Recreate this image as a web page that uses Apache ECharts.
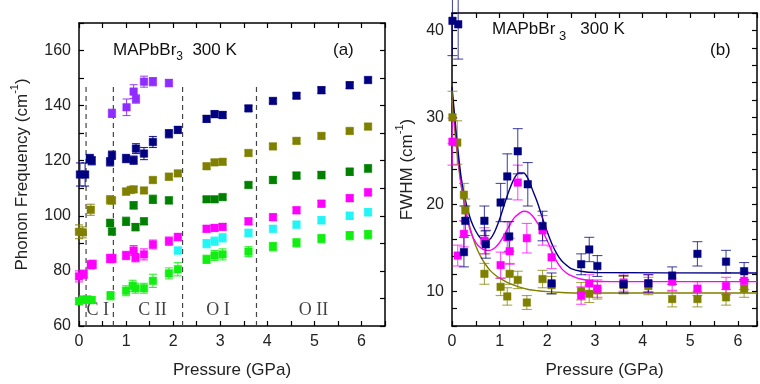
<!DOCTYPE html>
<html>
<head>
<meta charset="utf-8">
<script src="https://cdn.jsdelivr.net/npm/echarts@6/dist/echarts.min.js"></script>
<style>
  html, body { margin: 0; padding: 0; background: #fff; }
  #chart { width: 760px; height: 384px; }
</style>
</head>
<body>
<div id="chart"></div>
<script>
// ---------- panel (a): phonon frequency vs pressure ----------
const limeP = [0.0, 0.09, 0.18, 0.27, 0.67, 1.0, 1.14, 1.2, 1.38, 1.57, 1.91, 2.1, 2.71, 2.88, 3.05, 3.6, 4.12, 4.62, 5.15, 5.75, 6.14];
const limeF = [69.0, 69.6, 69.6, 69.4, 71.0, 72.8, 74.6, 73.7, 73.7, 76.4, 79.1, 80.6, 84.2, 85.6, 86.0, 87.0, 88.8, 90.2, 91.7, 92.8, 93.2];
const limeE = [1.2, 1.2, 1.2, 1.2, 1.5, 1.8, 2.0, 1.8, 1.8, 2.4, 2.0, 2.4, 1.5, 1.8, 2.0, 1.8, 1.5, 1.5, 1.5, 1.5, 1.5];

const magP = [0.0, 0.1, 0.25, 0.29, 0.66, 0.71, 1.0, 1.16, 1.2, 1.38, 1.57, 1.91, 2.1, 2.71, 2.88, 3.05, 3.6, 4.12, 4.62, 5.15, 5.75, 6.14];
const magF = [78.0, 78.8, 82.2, 82.4, 84.5, 84.5, 85.6, 87.4, 84.8, 86.0, 89.6, 90.8, 92.3, 95.3, 95.6, 96.0, 98.0, 99.5, 102.0, 104.4, 106.4, 108.5];
const magE = [2.0, 1.5, 1.5, 1.5, 1.5, 1.5, 1.5, 1.8, 1.5, 2.0, 1.6, 1.5, 1.3, 1.2, 1.2, 1.2, 1.2, 1.2, 1.2, 1.2, 1.2, 1.2];

const cyanP = [2.1, 2.71, 2.88, 3.05, 3.6, 4.12, 4.62, 5.15, 5.75, 6.14];
const cyanF = [87.4, 89.9, 90.8, 92.0, 93.8, 95.3, 96.8, 98.4, 100.0, 101.3];
const cyanE = [1.2, 1.5, 1.5, 1.5, 1.3, 1.2, 1.2, 1.3, 1.3, 1.3];

const dkgreenP = [0.66, 0.70, 1.0, 1.16, 1.2, 1.38, 1.57, 1.91, 2.71, 2.88, 3.05, 3.6, 4.12, 4.62, 5.15, 5.75, 6.14];
const dkgreenF = [97.4, 94.3, 98.0, 103.8, 95.9, 98.0, 106.0, 105.6, 106.0, 106.0, 106.8, 111.2, 113.0, 114.6, 114.8, 116.0, 117.2];
const dkgreenE = [1.3, 1.2, 1.5, 1.3, 1.3, 1.2, 1.5, 1.2, 1.0, 1.0, 1.0, 1.0, 1.2, 1.2, 1.3, 1.3, 1.3];

const oliveP = [0.0, 0.08, 0.25, 0.66, 0.70, 1.0, 1.1, 1.16, 1.38, 1.57, 1.91, 2.1, 2.71, 2.88, 3.05, 3.6, 4.12, 4.62, 5.15, 5.75, 6.14];
const oliveF = [94.2, 94.0, 102.2, 105.8, 105.6, 108.8, 109.4, 109.6, 109.2, 113.0, 114.2, 115.4, 118.0, 119.4, 119.6, 122.8, 125.2, 127.2, 129.0, 130.8, 132.4];
const oliveE = [2.5, 2.0, 2.0, 1.5, 1.2, 1.2, 1.0, 1.0, 1.0, 1.0, 1.2, 1.0, 1.0, 1.0, 1.0, 1.0, 1.0, 1.0, 1.0, 1.0, 1.0];

const navyP = [0.02, 0.13, 0.23, 0.27, 0.66, 0.70, 1.0, 1.16, 1.21, 1.38, 1.57, 1.91, 2.1, 2.71, 2.88, 3.05, 3.6, 4.12, 4.62, 5.15, 5.75, 6.14];
const navyF = [115.0, 115.0, 120.8, 120.0, 119.6, 122.0, 120.8, 120.2, 124.4, 122.6, 126.8, 129.8, 131.2, 135.2, 136.9, 136.6, 139.0, 141.7, 143.6, 145.6, 147.4, 149.3];
const navyE = [4.2, 4.2, 1.5, 1.5, 1.5, 1.5, 1.5, 1.5, 1.8, 2.2, 2.0, 1.5, 1.2, 1.2, 1.2, 1.2, 1.0, 1.0, 1.0, 1.2, 1.2, 1.0];

const violetP = [0.70, 1.01, 1.16, 1.21, 1.38, 1.57, 1.91];
const violetF = [137.2, 139.4, 145.1, 142.4, 148.7, 148.7, 148.2];
const violetE = [1.5, 3.0, 2.5, 1.5, 2.0, 1.5, 1.3];

const boundaries = [0.15, 0.73, 2.2, 3.77];
const boundaryTop = 148;
const phaseNames = ['C I', 'C II', 'O I', 'O II'];
const phaseP = [0.40, 1.56, 2.95, 4.98];
const phaseY = 65.8;

// ---------- panel (b): FWHM vs pressure ----------
const bNavyP = [0.01, 0.13, 0.25, 0.28, 0.68, 0.71, 1.02, 1.16, 1.20, 1.38, 1.59, 1.90, 2.09, 2.71, 2.88, 3.05, 3.60, 4.12, 4.62, 5.15, 5.75, 6.13];
const bNavyW = [41.1, 40.7, 14.5, 18.1, 18.1, 15.4, 20.2, 23.2, 16.3, 26.1, 22.3, 17.5, 10.9, 13.1, 14.8, 12.9, 10.8, 10.9, 11.8, 14.3, 13.4, 12.3];
const bNavyE = [4.0, 4.0, 1.7, 1.7, 1.7, 1.6, 2.2, 2.6, 1.7, 2.6, 2.5, 1.7, 1.2, 1.2, 1.4, 1.2, 1.0, 1.0, 1.0, 1.4, 1.3, 1.0];

const bMagP = [0.01, 0.12, 0.25, 0.68, 1.02, 1.16, 1.21, 1.38, 1.57, 1.90, 2.09, 2.71, 2.88, 3.05, 3.60, 4.12, 4.62, 5.15, 5.75, 6.13];
const bMagW = [27.2, 14.1, 16.6, 15.8, 13.0, 16.2, 14.6, 22.5, 16.1, 17.0, 13.9, 9.5, 10.9, 10.3, 11.0, 10.9, 11.1, 10.3, 10.6, 11.2];
const bMagE = [2.7, 1.2, 1.5, 1.5, 1.5, 1.8, 1.5, 2.0, 1.7, 1.7, 1.3, 1.0, 1.0, 1.0, 1.0, 1.0, 1.0, 0.8, 1.0, 1.0];

const bOliveP = [0.01, 0.11, 0.25, 0.28, 0.68, 0.70, 1.02, 1.16, 1.21, 1.38, 1.57, 1.90, 2.09, 2.71, 2.88, 3.05, 3.60, 4.12, 4.62, 5.15, 5.75, 6.13];
const bOliveW = [30.0, 27.1, 21.1, 19.3, 12.0, 15.6, 10.5, 9.4, 12.0, 11.3, 8.7, 11.4, 10.7, 10.0, 9.7, 10.1, 10.7, 10.6, 9.1, 9.1, 9.3, 10.3];
const bOliveE = [3.0, 2.5, 1.3, 1.3, 1.2, 1.3, 1.0, 1.0, 1.2, 1.0, 0.8, 1.0, 1.0, 1.0, 1.0, 1.0, 1.0, 1.0, 0.9, 0.9, 0.9, 1.0];

// fitted curves
const fitNavyP = [0, 0.05, 0.1, 0.15, 0.2, 0.3, 0.4, 0.5, 0.6, 0.7, 0.8, 0.9, 1.0, 1.1, 1.2, 1.3, 1.4, 1.5, 1.6, 1.7, 1.8, 1.9, 2.0, 2.1, 2.2, 2.3, 2.4, 2.5, 2.7, 3.0, 6.4];
const fitNavyW = [33.5, 30.5, 27.6, 25.0, 22.8, 20.0, 18.1, 16.9, 16.1, 15.8, 16.0, 16.9, 18.3, 20.0, 21.6, 22.9, 23.6, 23.6, 22.9, 21.5, 20.1, 18.4, 16.8, 15.4, 14.3, 13.5, 13.0, 12.6, 12.3, 12.15, 12.1];
const fitMagP = [0, 0.05, 0.1, 0.15, 0.2, 0.3, 0.4, 0.5, 0.6, 0.7, 0.8, 0.9, 1.0, 1.1, 1.2, 1.3, 1.4, 1.5, 1.6, 1.7, 1.8, 1.9, 2.0, 2.1, 2.2, 2.3, 2.4, 2.5, 2.7, 3.0, 3.5, 6.4];
const fitMagW = [33.0, 29.8, 26.8, 24.2, 22.0, 18.8, 16.7, 15.6, 15.0, 14.7, 14.7, 15.0, 15.6, 16.5, 17.5, 18.4, 18.9, 19.2, 19.1, 18.6, 17.8, 16.9, 15.8, 14.5, 13.4, 12.6, 12.1, 11.8, 11.4, 11.15, 11.1, 11.1];
const fitOliveP = [0, 0.05, 0.1, 0.15, 0.2, 0.3, 0.4, 0.5, 0.6, 0.7, 0.8, 0.9, 1.0, 1.2, 1.4, 1.6, 1.8, 2.0, 2.3, 2.6, 6.4];
const fitOliveW = [32.0, 29.0, 26.2, 23.8, 21.9, 19.0, 16.9, 15.2, 14.0, 13.1, 12.4, 11.9, 11.5, 10.9, 10.5, 10.2, 10.05, 9.95, 9.85, 9.8, 9.8];

const C = {
  lime: '#11ee11', magenta: '#ff00ff', cyan: '#22f5f5', dkgreen: '#008000',
  olive: '#808000', navy: '#000080', violet: '#8f2cff'
};
const FONT = 'Liberation Sans';

const chart = echarts.init(document.getElementById('chart'), null, { renderer: 'canvas' });

function pairs(P, V) { return P.map((p, i) => [p, V[i]]); }
function triples(P, V, E) { return P.map((p, i) => [p, V[i], E[i]]); }

function errorBars(P, V, E, color, axisIdx, capHalf, opacity) {
  return {
    type: 'custom',
    xAxisIndex: axisIdx, yAxisIndex: axisIdx,
    data: triples(P, V, E),
    encode: { x: 0, y: 1 },
    z: 2,
    silent: true,
    renderItem: (params, api) => {
      const x = api.value(0), y = api.value(1), e = api.value(2);
      const lo = api.coord([x, y - e]);
      const hi = api.coord([x, y + e]);
      const st = { stroke: color, lineWidth: 1.1, opacity: opacity };
      return {
        type: 'group',
        children: [
          { type: 'line', shape: { x1: lo[0], y1: lo[1], x2: hi[0], y2: hi[1] }, style: st },
          { type: 'line', shape: { x1: lo[0] - capHalf, y1: lo[1], x2: lo[0] + capHalf, y2: lo[1] }, style: st },
          { type: 'line', shape: { x1: hi[0] - capHalf, y1: hi[1], x2: hi[0] + capHalf, y2: hi[1] }, style: st }
        ]
      };
    }
  };
}

function points(P, V, color, axisIdx, size) {
  return {
    type: 'scatter', xAxisIndex: axisIdx, yAxisIndex: axisIdx,
    data: pairs(P, V), symbol: 'rect', symbolSize: size, z: 3,
    itemStyle: { color: color, borderColor: color, borderWidth: 0.5, opacity: 1 },
    silent: true
  };
}

function fitLine(P, V, color) {
  return {
    type: 'line', xAxisIndex: 2, yAxisIndex: 2, data: pairs(P, V),
    smooth: 0.3, symbol: 'none', z: 1, silent: true,
    lineStyle: { color: color, width: 1.4 }
  };
}

const aSets = [
  [limeP, limeF, limeE, C.lime], [magP, magF, magE, C.magenta], [cyanP, cyanF, cyanE, C.cyan],
  [dkgreenP, dkgreenF, dkgreenE, C.dkgreen], [oliveP, oliveF, oliveE, C.olive],
  [navyP, navyF, navyE, C.navy], [violetP, violetF, violetE, C.violet]
];
const bSets = [
  [bOliveP, bOliveW, bOliveE, C.olive], [bMagP, bMagW, bMagE, C.magenta], [bNavyP, bNavyW, bNavyE, C.navy]
];

const series = [];
boundaries.forEach(b => {
  series.push({
    type: 'line', xAxisIndex: 0, yAxisIndex: 0, data: [[b, 60], [b, boundaryTop]],
    symbol: 'none', silent: true, z: 1,
    lineStyle: { color: '#444', width: 1.2, type: [5, 4] }
  });
});
aSets.forEach(s => {
  series.push(errorBars(s[0], s[1], s[2], s[3], 0, 4, 0.85));
  series.push(points(s[0], s[1], s[3], 0, 7.5));
});
series.push({
  type: 'scatter', xAxisIndex: 0, yAxisIndex: 0, symbolSize: 0, silent: true,
  data: phaseP.map((p, i) => ({ value: [p, phaseY], name: phaseNames[i] })),
  label: {
    show: true, position: 'inside', formatter: '{b}',
    fontFamily: 'Liberation Serif', fontSize: 18, color: '#111'
  }
});
series.push(fitLine(fitOliveP, fitOliveW, C.olive));
series.push(fitLine(fitMagP, fitMagW, C.magenta));
series.push(fitLine(fitNavyP, fitNavyW, C.navy));
bSets.forEach(s => {
  series.push(errorBars(s[0], s[1], s[2], s[3], 2, 5, 0.7));
  series.push(points(s[0], s[1], s[3], 2, 7.5));
});

const axLine = { show: true, onZero: false, lineStyle: { color: '#000', width: 1.5 } };
const tick = { show: true, inside: true, length: 5, lineStyle: { color: '#000', width: 1.2 } };
const lab = { color: '#222', fontFamily: FONT, fontSize: 16 };
const nameStyle = {
  fontFamily: FONT, fontSize: 17, color: '#222',
  rich: {
    a: { fontFamily: FONT, fontSize: 17, color: '#222', lineHeight: 26 },
    s: { fontFamily: FONT, fontSize: 11, color: '#222', lineHeight: 12, verticalAlign: 'top' }
  }
};
const intLabel = v => (Math.abs(v - Math.round(v)) < 1e-6 ? String(Math.round(v)) : '');

function xAxes(grid, max) {
  return [
    {
      type: 'value', gridIndex: grid, min: 0, max: max, interval: 0.5, position: 'bottom',
      axisLine: axLine, axisTick: tick, splitLine: { show: false },
      axisLabel: Object.assign({ margin: 8, formatter: intLabel, showMaxLabel: true, showMinLabel: true }, lab),
      name: 'Pressure (GPa)', nameLocation: 'middle', nameGap: 36, nameTextStyle: nameStyle
    },
    {
      type: 'value', gridIndex: grid, min: 0, max: max, interval: 0.5, position: 'top',
      axisLine: axLine, axisTick: tick, splitLine: { show: false }, axisLabel: { show: false }
    }
  ];
}
function yAxes(grid, min, max, interval, labelStep, nameStr, nameGap) {
  return [
    {
      type: 'value', gridIndex: grid, min: min, max: max, interval: interval, position: 'left',
      axisLine: axLine, axisTick: tick, splitLine: { show: false },
      axisLabel: Object.assign({
        margin: 8,
        formatter: v => (Math.abs(v % labelStep) < 1e-6 ? String(v) : '')
      }, lab),
      name: nameStr, nameLocation: 'middle', nameRotate: 90, nameGap: nameGap, nameTextStyle: nameStyle
    },
    {
      type: 'value', gridIndex: grid, min: min, max: max, interval: interval, position: 'right',
      axisLine: axLine, axisTick: tick, splitLine: { show: false }, axisLabel: { show: false }
    }
  ];
}

const option = {
  backgroundColor: '#fff',
  animation: false,
  grid: [
    { left: 79, top: 23, width: 306, height: 306 },
    { left: 452, top: 13, width: 310, height: 314 }
  ],
  xAxis: xAxes(0, 6.5).concat(xAxes(1, 6.4)),
  yAxis: yAxes(0, 60, 170, 10, 20, '{a|Phonon Frequency (cm}{s|-1}{a|)}', 44)
    .concat(yAxes(1, 6, 42, 2, 10, '{a|FWHM (cm}{s|-1}{a|)}', 32)),
  series: series,
  graphic: [
    {
      type: 'text', left: 113, top: 42, silent: true,
      style: {
        text: '{a|MAPbBr}{s|3}{a|  300 K}',
        rich: {
          a: { fontFamily: FONT, fontSize: 17, fill: '#111', lineHeight: 24 },
          s: { fontFamily: FONT, fontSize: 12, fill: '#111', lineHeight: 13, verticalAlign: 'bottom' }
        }
      }
    },
    { type: 'text', left: 333, top: 42, silent: true, style: { text: '(a)', fontFamily: FONT, fontSize: 17, fill: '#111' } },
    {
      type: 'text', left: 492, top: 21, silent: true,
      style: {
        text: '{a|MAPbBr}{s| 3}{a|   300 K}',
        rich: {
          a: { fontFamily: FONT, fontSize: 17, fill: '#111', lineHeight: 26 },
          s: { fontFamily: FONT, fontSize: 13, fill: '#111', lineHeight: 12, verticalAlign: 'bottom' }
        }
      }
    },
    { type: 'text', left: 710, top: 42, silent: true, style: { text: '(b)', fontFamily: FONT, fontSize: 17, fill: '#111' } }
  ]
};

chart.setOption(option);
</script>
</body>
</html>
